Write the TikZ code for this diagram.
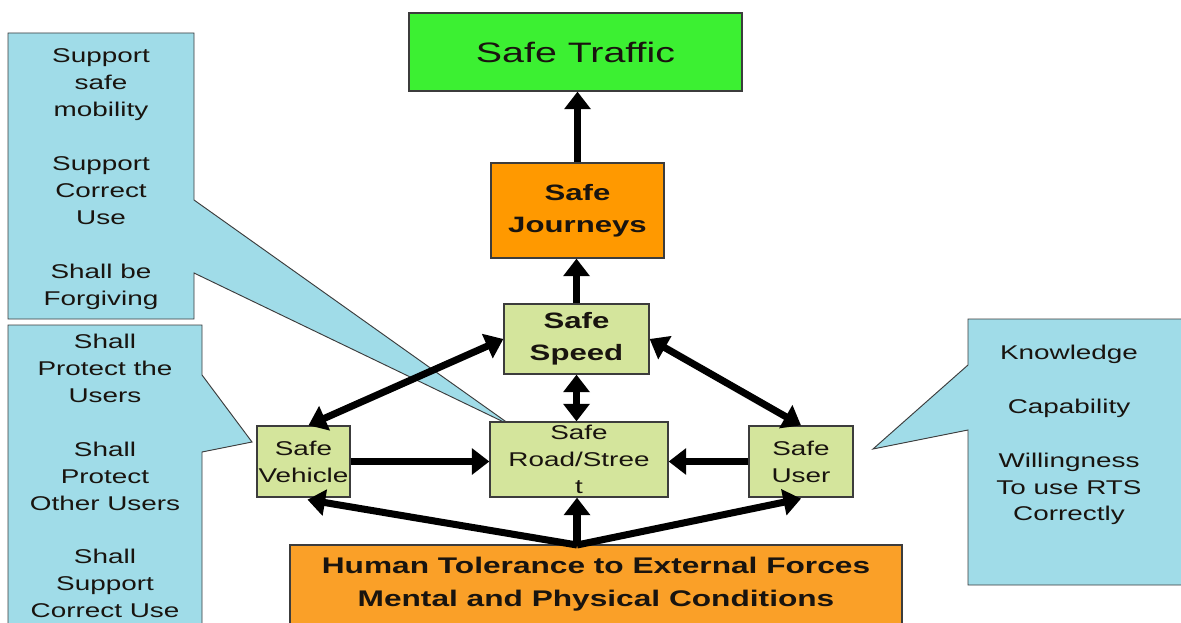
\documentclass[tikz,border=0pt]{standalone}
\usepackage{fontspec}
\setmainfont{Liberation Sans}[FakeStretch=1.4]
\usetikzlibrary{arrows.meta,calc}
\definecolor{trafficgreen}{RGB}{60,240,50}
\definecolor{journeyorange}{RGB}{255,153,0}
\definecolor{humanorange}{RGB}{250,160,40}
\definecolor{lightgreen}{RGB}{212,229,156}
\definecolor{calloutblue}{RGB}{160,220,232}
\definecolor{boxline}{RGB}{60,60,60}
\definecolor{textdark}{RGB}{25,20,15}
\def\pxu{0.03cm}
\tikzset{
  box/.style={draw=boxline, line width=1.1pt, inner sep=0pt, align=center, text=textdark},
  sz/.style 2 args={minimum width=#1*\pxu, minimum height=#2*\pxu},
  smallbox/.style={box, fill=lightgreen, font=\fontsize{17}{23}\selectfont},
  boldbox/.style={box, font=\bfseries\fontsize{19}{27}\selectfont},
  callout/.style={draw=boxline, line width=0.8pt, fill=calloutblue, line join=miter},
  callouttext/.style={align=center, inner sep=0pt, text=textdark, font=\fontsize{17}{23}\selectfont},
  arr/.style={line width=6pt, -{Triangle[length=15pt,width=22pt]}},
  barr/.style={line width=6pt, {Triangle[length=15pt,width=22pt]}-{Triangle[length=15pt,width=22pt]}}
}
\begin{document}
\begin{tikzpicture}[x=0.03cm,y=-0.03cm]
\path[use as bounding box] (0,0) rectangle (1181,623);
\clip (0,0) rectangle (1181,623);
\fill[white] (0,0) rectangle (1181,623);

% callouts
\draw[callout] (8,33) -- (194,33) -- (194,200) -- (512,426) -- (194,273) -- (194,319) -- (8,319) -- cycle;
\node[callouttext] (c1) at (101,179) {Support\\safe\\mobility\\[23pt]Support\\Correct\\Use\\[23pt]Shall be\\Forgiving};

\draw[callout] (8,325) -- (202,325) -- (202,375) -- (252,442) -- (202,452) -- (202,627) -- (8,627) -- cycle;
\node[callouttext] (c2) at (105,476) {Shall\\Protect the\\Users\\[23pt]Shall\\Protect\\Other Users\\[23pt]Shall\\Support\\Correct Use};

\draw[callout] (968,319) -- (1190,319) -- (1190,585) -- (968,585) -- (968,430) -- (873,449) -- (968,365) -- cycle;
\node[callouttext] (c3) at (1069,435) {Knowledge\\[23pt]Capability\\[23pt]Willingness\\To use RTS\\Correctly};

% boxes
\node[box, fill=trafficgreen, sz={333}{78}, font=\fontsize{24}{28}\selectfont] (traffic) at (575.5,52) {Safe Traffic};
\node[boldbox, fill=journeyorange, sz={173}{95}] (journeys) at (577.5,210.5) {Safe\\Journeys};
\node[boldbox, fill=lightgreen, sz={145}{70}] (speed) at (576.5,339) {Safe\\Speed};
\node[smallbox, sz={178}{75}] (road) at (579,459.5) {Safe\\Road/Stree\\t};
\node[smallbox, sz={93}{71}] (vehicle) at (303.5,461.5) {Safe\\Vehicle};
\node[smallbox, sz={104}{71}] (user) at (801,461.5) {Safe\\User};
\node[boldbox, fill=humanorange, sz={612}{79}, font=\bfseries\fontsize{19.3}{28}\selectfont] (human) at (596,584.5) {Human Tolerance to External Forces\\Mental and Physical Conditions};
\coordinate (hub) at (577,545);

% arrows
\draw[arr] (journeys.north) -- (journeys.north |- traffic.south);
\draw[arr] (speed.north) -- (speed.north |- journeys.south);
\draw[barr] (speed.west) -- ($(vehicle.north)+(5,0)$);
\draw[barr] (speed.east) -- (user.north);
\draw[barr] (speed.south) -- (speed.south |- road.north);
\draw[arr] (vehicle.east) -- (vehicle.east -| road.west);
\draw[arr] (user.west) -- (user.west -| road.east);
\draw[arr] (hub) -- ($(vehicle.south)+(4,2)$);
\draw[arr] (hub) -- (hub |- road.south);
\draw[arr] (hub) -- ($(user.south)+(0,1)$);
\end{tikzpicture}
\end{document}
